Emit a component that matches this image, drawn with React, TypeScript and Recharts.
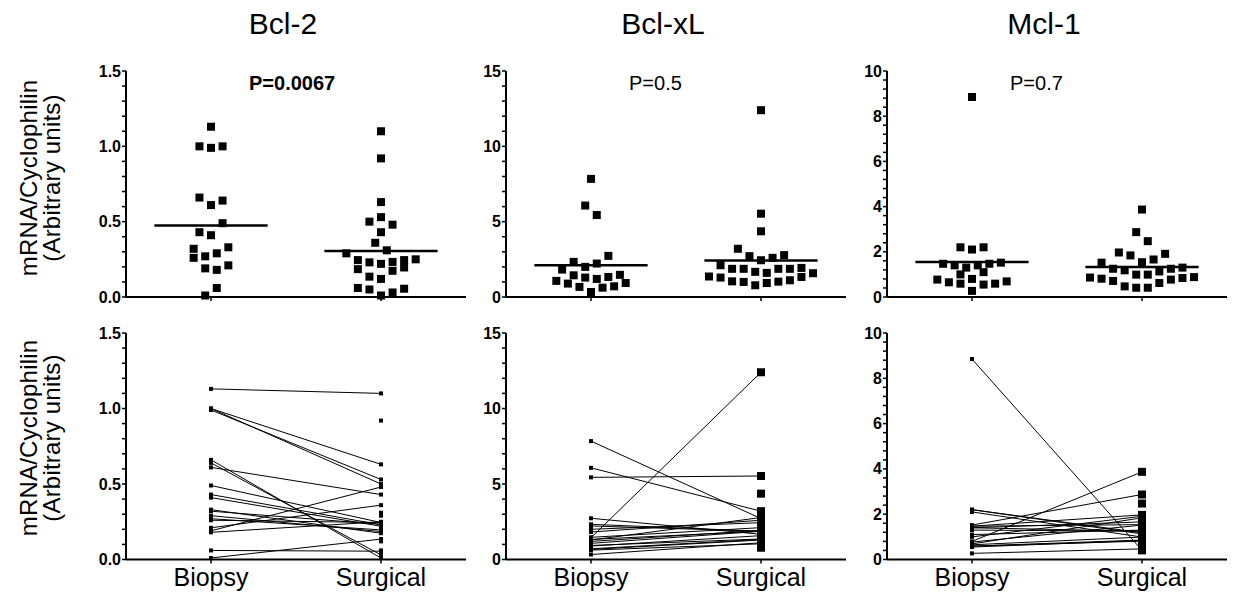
import React from 'react';
import { ScatterChart, Scatter, XAxis, YAxis, ReferenceLine } from 'recharts';

const FONT = '"Liberation Sans", Arial, Helvetica, sans-serif';

const GENES = ['Bcl-2', 'Bcl-xL', 'Mcl-1'];
const P_VALUES = ['P=0.0067', 'P=0.5', 'P=0.7'];
const P_BOLD = [true, false, false];
const GROUPS = ['Biopsy', 'Surgical'];
const Y_TITLE = ['mRNA/Cyclophilin', '(Arbitrary units)'];

// Bcl-2 (offsets are the column-scatter slot)
const bcl2Biopsy = [1.13, 1.0, 0.99, 1.0, 0.66, 0.61, 0.64, 0.49, 0.43, 0.41, 0.32, 0.33, 0.26, 0.27, 0.29, 0.19, 0.18, 0.21, 0.06, 0.01];
const bcl2BiopsyOffset = [0, -1, 0, 1, -1, 0, 1, 1, -1, 0, -1.5, 1.5, -1.5, -0.5, 0.5, -0.5, 0.5, 1.5, 0.5, -0.5];
const bcl2Surgical = [1.1, 0.92, 0.63, 0.5, 0.53, 0.48, 0.43, 0.36, 0.29, 0.31, 0.245, 0.23, 0.22, 0.233, 0.174, 0.245, 0.196, 0.25, 0.185, 0.135, 0.12, 0.06, 0.05, 0.01, 0.03, 0.055];
const bcl2SurgicalOffset = [0, 0, 0, -1, 0, 1, 0, -0.5, -3, 0.5, -2, -1, 0, 1, 1, 2, 2, 3, -2, -1, 0, -2, -1, 0, 1, 2];
const bcl2Pairs = [0, 2, 4, 3, 23, 6, 24, 10, 11, 12, 13, 14, 15, 16, 18, 5, 17, 7, 25, 19];
const bcl2Medians = [0.475, 0.306];
const bcl2Ticks = [0, 0.1, 0.2, 0.3, 0.4, 0.5, 0.6, 0.7, 0.8, 0.9, 1.0, 1.1, 1.2, 1.3, 1.4, 1.5];
const bcl2Major = [0, 0.5, 1, 1.5];

// Bcl-xL
const bclxlBiopsy = [7.84, 6.07, 5.44, 2.73, 2.33, 2.0, 2.22, 1.82, 1.44, 1.29, 1.2, 1.33, 1.47, 1.07, 0.93, 0.89, 0.67, 0.62, 0.71, 0.33];
const bclxlBiopsyOffset = [0, -0.5, 0.5, 1.5, -1.5, -0.5, 0.5, -2.5, -1.5, -0.5, 0.5, 1.5, 2.5, -3, 3, -2, -1, 1, 2, 0];
const bclxlSurgical = [12.4, 5.53, 4.36, 3.2, 2.71, 2.44, 2.6, 2.78, 2.11, 1.87, 1.87, 1.67, 1.6, 1.87, 1.87, 1.93, 1.36, 1.29, 1.33, 1.58, 1.04, 1.0, 0.78, 0.93, 1.02, 1.11];
const bclxlSurgicalOffset = [0, 0, 0, -2, -1, 0, 1, 2, -3.5, -2.5, -1.5, -0.5, 0.5, 1.5, 2.5, 3.5, -4.5, -3.5, 3.5, 4.5, -2.5, -1.5, -0.5, 0.5, 1.5, 2.5];
const bclxlPairs = [4, 3, 1, 11, 9, 5, 10, 6, 0, 7, 15, 13, 8, 14, 16, 19, 17, 20, 18, 25];
const bclxlMedians = [2.11, 2.42];
const bclxlTicks = [0, 1, 2, 3, 4, 5, 6, 7, 8, 9, 10, 11, 12, 13, 14, 15];
const bclxlMajor = [0, 5, 10, 15];

// Mcl-1
const mcl1Biopsy = [8.85, 2.2, 2.1, 2.2, 1.47, 1.4, 1.3, 1.4, 1.47, 1.52, 1.0, 1.1, 0.77, 0.65, 0.59, 0.8, 0.55, 0.59, 0.69, 0.27];
const mcl1BiopsyOffset = [0, -1, 0, 1, -2.5, -1.5, -0.5, 0.5, 1.5, 2.5, -1, 1, -3, -2, -1, 0, 1, 2, 3, 0];
const mcl1Surgical = [3.87, 2.87, 2.47, 1.97, 1.84, 1.54, 1.66, 1.91, 1.52, 1.25, 1.18, 1.13, 1.25, 1.3, 0.99, 0.99, 0.86, 0.81, 0.71, 0.47, 0.41, 0.41, 0.62, 0.77, 0.84, 0.88];
const mcl1SurgicalOffset = [0, -0.5, 0.5, -2, -1, 0, 1, 2, -3.5, -2.5, -1.5, 1.5, 2.5, 3.5, -0.5, 0.5, -4.5, -3.5, -2.5, -1.5, -0.5, 0.5, 1.5, 2.5, 3.5, 4.5];
const mcl1Pairs = [20, 10, 14, 11, 3, 6, 9, 12, 5, 1, 7, 13, 8, 15, 16, 0, 24, 17, 4, 19];
const mcl1Medians = [1.55, 1.33];
const mcl1Ticks = [0, 0.4, 0.8, 1.2, 1.6, 2, 2.4, 2.8, 3.2, 3.6, 4, 4.4, 4.8, 5.2, 5.6, 6, 6.4, 6.8, 7.2, 7.6, 8, 8.4, 8.8, 9.2, 9.6, 10];
const mcl1Major = [0, 2, 4, 6, 8, 10];

const panels = [
  { biopsy: bcl2Biopsy, bOff: bcl2BiopsyOffset, surgical: bcl2Surgical, sOff: bcl2SurgicalOffset, pairs: bcl2Pairs, medians: bcl2Medians, ticks: bcl2Ticks, major: bcl2Major, decimals: 1, bigSurgical: false },
  { biopsy: bclxlBiopsy, bOff: bclxlBiopsyOffset, surgical: bclxlSurgical, sOff: bclxlSurgicalOffset, pairs: bclxlPairs, medians: bclxlMedians, ticks: bclxlTicks, major: bclxlMajor, decimals: 0, bigSurgical: true },
  { biopsy: mcl1Biopsy, bOff: mcl1BiopsyOffset, surgical: mcl1Surgical, sOff: mcl1SurgicalOffset, pairs: mcl1Pairs, medians: mcl1Medians, ticks: mcl1Ticks, major: mcl1Major, decimals: 0, bigSurgical: true },
];

// layout
const AXIS_X = [126, 506, 887];
const PLOT_W = 340;
const SLOT = 0.068;
const MEDIAN_HALF = 0.333;
const CENTERS = [0.5, 1.5];

const Square = (size: number) => (props: any) => {
  const { cx, cy } = props;
  if (cx == null || cy == null) return <g />;
  return <rect x={cx - size / 2} y={cy - size / 2} width={size} height={size} fill="#000" />;
};
const NoShape = () => <g />;

const yTick = (major: number[], decimals: number) => (props: any) => {
  const { x, y, payload } = props;
  if (!major.includes(payload.value)) return <g />;
  return (
    <text x={x} y={y} dy={5.5} textAnchor="end" fontFamily={FONT} fontSize={16} fontWeight="bold" fill="#000">
      {payload.value.toFixed(decimals)}
    </text>
  );
};

const xTick = (show: boolean) => (props: any) => {
  const { x, y, payload } = props;
  if (!show) return <g />;
  return (
    <text x={x} y={y} dy={18} textAnchor="middle" fontFamily={FONT} fontSize={25} fill="#000">
      {payload.value < 1 ? GROUPS[0] : GROUPS[1]}
    </text>
  );
};

function Panel({ col, row }: { col: number; row: number }) {
  const p = panels[col];
  const yW = col === 0 ? 126 : 80;
  const plotTop = row === 0 ? 71 : 333;
  const plotH = row === 0 ? 226 : 226.5;
  const xH = row === 0 ? 12 : 36;
  const width = yW + PLOT_W + 6;
  const height = 20 + plotH + xH;
  const max = p.ticks[p.ticks.length - 1];

  return (
    <div style={{ position: 'absolute', left: AXIS_X[col] - yW, top: plotTop - 20 }}>
      <ScatterChart width={width} height={height} margin={{ top: 20, right: 6, bottom: 0, left: 0 }}>
        <XAxis
          type="number"
          dataKey="x"
          domain={[0, 2]}
          ticks={CENTERS}
          interval={0}
          height={xH}
          tickSize={4}
          tickMargin={4}
          tick={xTick(row === 1)}
          axisLine={{ stroke: '#000', strokeWidth: 2 }}
          tickLine={{ stroke: '#000', strokeWidth: 1.5 }}
        />
        <YAxis
          type="number"
          dataKey="y"
          domain={[0, max]}
          ticks={p.ticks}
          interval={0}
          width={yW}
          tickSize={4}
          tickMargin={1}
          tick={yTick(p.major, p.decimals)}
          axisLine={{ stroke: '#000', strokeWidth: 2 }}
          tickLine={{ stroke: '#000', strokeWidth: 1.5 }}
        />
        {row === 0 && (
          <Scatter
            data={p.biopsy.map((v, i) => ({ x: CENTERS[0] + p.bOff[i] * SLOT, y: v }))}
            shape={Square(8)}
            isAnimationActive={false}
          />
        )}
        {row === 0 && (
          <Scatter
            data={p.surgical.map((v, i) => ({ x: CENTERS[1] + p.sOff[i] * SLOT, y: v }))}
            shape={Square(8)}
            isAnimationActive={false}
          />
        )}
        {row === 0 &&
          p.medians.map((m, i) => (
            <ReferenceLine
              key={`med-${i}`}
              segment={[
                { x: CENTERS[i] - MEDIAN_HALF, y: m },
                { x: CENTERS[i] + MEDIAN_HALF, y: m },
              ]}
              stroke="#000"
              strokeWidth={2.5}
            />
          ))}
        {row === 1 &&
          p.pairs.map((s, i) => (
            <Scatter
              key={`pair-${i}`}
              data={[
                { x: CENTERS[0], y: p.biopsy[i] },
                { x: CENTERS[1], y: p.surgical[s] },
              ]}
              line={{ stroke: '#000', strokeWidth: 1 }}
              shape={NoShape}
              isAnimationActive={false}
            />
          ))}
        {row === 1 && (
          <Scatter
            data={p.biopsy.map((v) => ({ x: CENTERS[0], y: v }))}
            shape={Square(4)}
            isAnimationActive={false}
          />
        )}
        {row === 1 && (
          <Scatter
            data={p.surgical.map((v) => ({ x: CENTERS[1], y: v }))}
            shape={Square(p.bigSurgical ? 8 : 4)}
            isAnimationActive={false}
          />
        )}
      </ScatterChart>
    </div>
  );
}

export default function App() {
  return (
    <div style={{ position: 'absolute', left: 0, top: 0, width: 1233, height: 595, background: '#fff', overflow: 'hidden' }}>
      {[0, 1].map((row) => [0, 1, 2].map((col) => <Panel key={`${row}-${col}`} row={row} col={col} />))}
      <svg width={1233} height={595} style={{ position: 'absolute', left: 0, top: 0, pointerEvents: 'none' }}>
        {GENES.map((g, i) => (
          <text key={g} x={AXIS_X[i] + 157} y={34} textAnchor="middle" fontFamily={FONT} fontSize={30} fill="#000">
            {g}
          </text>
        ))}
        {P_VALUES.map((t, i) => (
          <text key={t} x={AXIS_X[i] + 123} y={90} fontFamily={FONT} fontSize={20} fontWeight={P_BOLD[i] ? 'bold' : 'normal'} fill="#000">
            {t}
          </text>
        ))}
        {[178, 438].map((cy) => (
          <g key={cy}>
            <text x={37} y={cy} transform={`rotate(-90, 37, ${cy})`} textAnchor="middle" fontFamily={FONT} fontSize={24} letterSpacing={0.2} fill="#000">
              {Y_TITLE[0]}
            </text>
            <text x={60} y={cy} transform={`rotate(-90, 60, ${cy})`} textAnchor="middle" fontFamily={FONT} fontSize={24} letterSpacing={0.2} fill="#000">
              {Y_TITLE[1]}
            </text>
          </g>
        ))}
      </svg>
    </div>
  );
}
